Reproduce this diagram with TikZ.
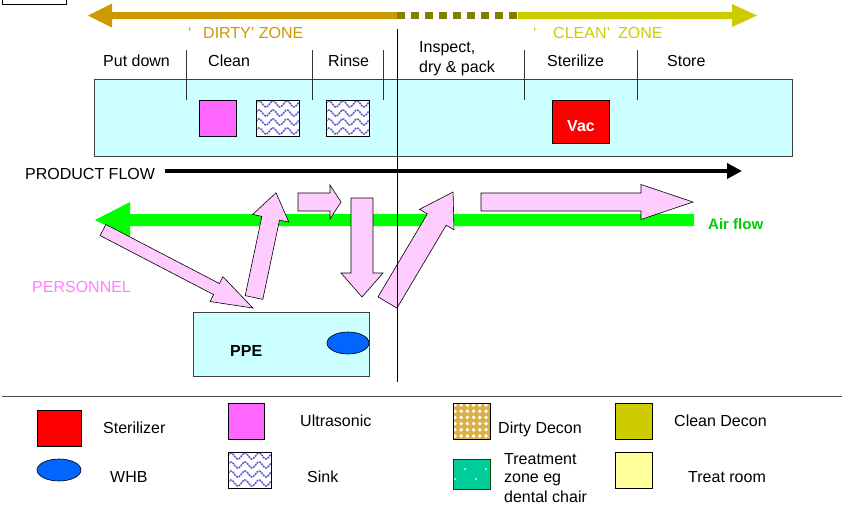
\documentclass[tikz,border=0pt]{standalone}
\usepackage{fontspec}
\setmainfont{Liberation Sans}
\usetikzlibrary{arrows.meta}
\definecolor{cyanbox}{HTML}{CCFFFF}
\definecolor{pinkA}{HTML}{FFCCFF}
\definecolor{magentaU}{HTML}{FF66FF}
\definecolor{goldD}{HTML}{CC9900}
\definecolor{goldL}{HTML}{D9B04A}
\definecolor{oliveD}{HTML}{808000}
\definecolor{yellowC}{HTML}{CCCC00}
\definecolor{greenA}{HTML}{00FF00}
\definecolor{greenT}{HTML}{00CC00}
\definecolor{blueW}{HTML}{0066FF}
\definecolor{persC}{HTML}{FF80FF}
\definecolor{waveC}{HTML}{6060D8}
\definecolor{teal}{HTML}{00CC99}
\definecolor{treatY}{HTML}{FFFF99}
\newcommand{\blockarr}[7]{%
  \begin{scope}[shift={(#1,#2)},rotate=#3]
    \draw[parrow] (0,-#5) -- (#4-#7,-#5) -- (#4-#7,-#6) -- (#4,0) -- (#4-#7,#6) -- (#4-#7,#5) -- (0,#5) -- cycle;
  \end{scope}}
\newcommand{\sinkbox}[4]{%
  \begin{scope}
    \clip (#1,#2) rectangle (#3,#4);
    \fill[white] (#1,#2) rectangle (#3,#4);
    \foreach \r in {0,...,4}{
      \draw[waveC, line width=1.6pt, dash pattern=on 2pt off 0.8pt] plot[domain=#1:#3, samples=50] (\x, {#2+4+\r*9-3*cos((\x-#1-3)*25.7)});
    }
  \end{scope}
  \draw[black, line width=0.8pt] (#1,#2) rectangle (#3,#4);}
\begin{document}
\begin{tikzpicture}[x=1pt,y=-1pt,
  txt/.style={inner sep=0pt, anchor=base west, font=\fontsize{16}{19}\selectfont},
  btxt/.style={inner sep=0pt, anchor=base west, font=\fontsize{16}{19}\selectfont\bfseries},
  parrow/.style={fill=pinkA, draw=black, line width=0.6pt, line join=miter},
  divider/.style={draw=black!80, line width=0.8pt},
  boxline/.style={draw=black!75, line width=0.9pt},
  legendbox/.style={draw=black, line width=0.8pt}]
\useasboundingbox (0,0) rectangle (848,509);
\clip (0,0) rectangle (848,509);

% top-left box
\draw[black, line width=1pt] (2,-5) rectangle (66,4.5);

% zone arrows
\fill[goldD] (397,12) -- (112,12) -- (112,3.5) -- (88,15.5) -- (112,27.5) -- (112,19) -- (397,19) -- cycle;
\draw[oliveD, line width=7pt, dash pattern=on 8pt off 6pt] (397,15.5) -- (518,15.5);
\fill[yellowC] (518,12) -- (732,12) -- (732,4) -- (757,15.5) -- (732,27) -- (732,19) -- (518,19) -- cycle;
\node[txt, text=goldD] (dq) at (188,38) {‘};
\node[txt, text=goldD] (dirty) at (203,38) {DIRTY’ ZONE};
\node[txt, text=yellowC] (cq) at (533,38) {‘};
\node[txt, text=yellowC] (clean) at (553,38) {CLEAN’\hspace{8pt}ZONE};

% stage labels
\node[txt] (putdown) at (103,66.5) {Put down};
\node[txt] (cleanl) at (208,66.5) {Clean};
\node[txt] (rinse) at (328,66.5) {Rinse};
\node[txt] (insp1) at (419,52) {Inspect,};
\node[txt] (insp2) at (419,72) {dry \& pack};
\node[txt] (steril) at (547,66.5) {Sterilize};
\node[txt] (store) at (667,66.5) {Store};

% main cyan box
\draw[boxline, fill=cyanbox] (94,79) rectangle (792,156);
\foreach \xx in {186,312,383,524,637} \draw[divider] (\xx,50) -- (\xx,100);

% equipment
\draw[legendbox, fill=magentaU] (199,100) rectangle (236,136);
\sinkbox{256}{100}{299}{136}
\sinkbox{326}{100}{369}{136}
\draw[legendbox, fill=red] (552,100) rectangle (609,143);
\node[btxt, text=white] (vac) at (567,131) {Vac};

% product flow
\node[txt] (pf) at (25,179) {PRODUCT FLOW};
\coordinate (pfs) at (165,171);
\coordinate (pfe) at (742,171);
\draw[black, line width=3.6pt, -{Triangle[length=15pt,width=15pt]}] (pfs) -- (pfe);

% air flow
\fill[greenA] (694,214) -- (130,214) -- (130,202) -- (95,220) -- (130,237) -- (130,226) -- (694,226) -- cycle;
\node[btxt, text=greenT, font=\fontsize{15}{18}\selectfont\bfseries] (air) at (708,229) {Air flow};

% personnel
\node[txt, text=persC] (pers) at (32,292) {PERSONNEL};

% PPE box
\draw[boxline, fill=cyanbox] (193,312) rectangle (369,376);
\node[btxt] (ppe) at (230,356) {PPE};
\draw[black, line width=0.6pt, fill=blueW] (348,343) ellipse [x radius=21, y radius=11];

% personnel arrows
\blockarr{103}{230}{-27.5}{169}{6.25}{14}{41}
\blockarr{254}{297.5}{78.1}{107}{9}{18.5}{26}
\blockarr{298}{202}{0}{43}{9}{17}{11}
\blockarr{362}{198}{-90}{99}{11}{21}{24}
\blockarr{387.5}{302.5}{59.3}{128.5}{11}{20}{32}
\blockarr{481}{202}{0}{212}{9}{17.5}{52}

% zone divider
\draw[black, line width=0.8pt] (397,29) -- (397,382);

% legend separator
\draw[black!70, line width=1pt] (2,396) -- (842,396);

% legend
\draw[legendbox, fill=red] (37,410) rectangle (81,446);
\node[txt] (lster) at (103,433) {Sterilizer};
\draw[black, line width=0.6pt, fill=blueW] (59,470) ellipse [x radius=22, y radius=11];
\node[txt] (lwhb) at (110,482) {WHB};
\draw[legendbox, fill=magentaU] (228,403) rectangle (264,439);
\node[txt] (lultra) at (300,426) {Ultrasonic};
\sinkbox{228}{452}{271}{488}
\node[txt] (lsink) at (307,482) {Sink};

\begin{scope}
  \clip (453,403) rectangle (490,439);
  \fill[goldL] (453,403) rectangle (490,439);
  \foreach \i in {0,...,6}{
    \foreach \j in {0,...,6}{
      \fill[white] (455+\i*6.2,405+\j*6.2) circle (1.9pt);
    }
  }
\end{scope}
\draw[legendbox] (453,403) rectangle (490,439);
\node[txt] (ldirty) at (498,433) {Dirty Decon};

\draw[draw=black!70!green, line width=0.8pt, fill=teal] (453,459) rectangle (490,489);
\foreach \p in {(465,469),(486,469),(476,479),(455,479)} \fill[white] \p circle (1pt);
\node[txt] (ltr1) at (504,464) {Treatment};
\node[txt] (ltr2) at (504,482) {zone eg};
\node[txt] (ltr3) at (504,502) {dental chair};

\draw[legendbox, fill=yellowC] (615,403) rectangle (652,439);
\node[txt] (lclean) at (674,426) {Clean Decon};
\draw[legendbox, fill=treatY] (615,452) rectangle (652,488);
\node[txt] (ltreat) at (688,482) {Treat room};
\end{tikzpicture}
\end{document}
